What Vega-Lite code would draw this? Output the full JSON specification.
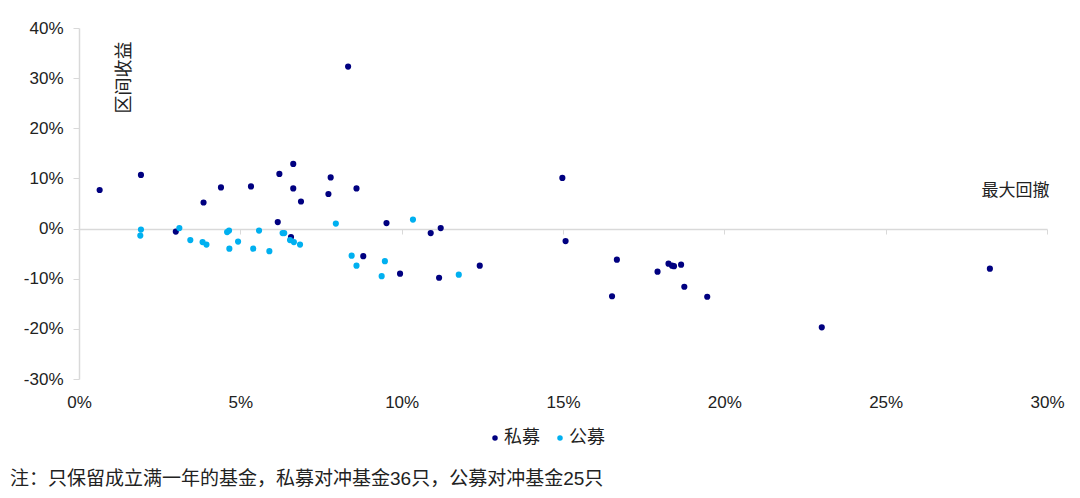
{
  "$schema": "https://vega.github.io/schema/vega-lite/v6.json",
  "autosize": {"type": "none"},
  "width": 968,
  "height": 351,
  "padding": {"left": 79, "top": 28, "right": 33, "bottom": 119},
  "background": "white",
  "config": {
    "view": {"stroke": null},
    "font": "Liberation Sans, Noto Sans CJK SC"
  },
  "title": {
    "text": "注：只保留成立满一年的基金，私募对冲基金36只，公募对冲基金25只",
    "orient": "bottom",
    "anchor": "start",
    "frame": "group",
    "dx": -69,
    "offset": 23,
    "fontSize": 19,
    "fontWeight": "normal",
    "color": "#222",
    "font": "Liberation Sans, Noto Sans CJK SC"
  },
  "data": {
    "values": [
      {"x": 0.0064, "y": 0.077, "type": "私募"},
      {"x": 0.0192, "y": 0.107, "type": "私募"},
      {"x": 0.0386, "y": 0.052, "type": "私募"},
      {"x": 0.0440, "y": 0.082, "type": "私募"},
      {"x": 0.0533, "y": 0.084, "type": "私募"},
      {"x": 0.0300, "y": -0.006, "type": "私募"},
      {"x": 0.0664, "y": 0.129, "type": "私募"},
      {"x": 0.0621, "y": 0.109, "type": "私募"},
      {"x": 0.0780, "y": 0.102, "type": "私募"},
      {"x": 0.0664, "y": 0.080, "type": "私募"},
      {"x": 0.0860, "y": 0.080, "type": "私募"},
      {"x": 0.0773, "y": 0.069, "type": "私募"},
      {"x": 0.0688, "y": 0.054, "type": "私募"},
      {"x": 0.0616, "y": 0.013, "type": "私募"},
      {"x": 0.0953, "y": 0.011, "type": "私募"},
      {"x": 0.0657, "y": -0.017, "type": "私募"},
      {"x": 0.1090, "y": -0.009, "type": "私募"},
      {"x": 0.1121, "y": 0.001, "type": "私募"},
      {"x": 0.0881, "y": -0.055, "type": "私募"},
      {"x": 0.0995, "y": -0.090, "type": "私募"},
      {"x": 0.1116, "y": -0.098, "type": "私募"},
      {"x": 0.1242, "y": -0.074, "type": "私募"},
      {"x": 0.1498, "y": 0.101, "type": "私募"},
      {"x": 0.1508, "y": -0.025, "type": "私募"},
      {"x": 0.1667, "y": -0.062, "type": "私募"},
      {"x": 0.1652, "y": -0.135, "type": "私募"},
      {"x": 0.1793, "y": -0.086, "type": "私募"},
      {"x": 0.1827, "y": -0.070, "type": "私募"},
      {"x": 0.1838, "y": -0.074, "type": "私募"},
      {"x": 0.1844, "y": -0.075, "type": "私募"},
      {"x": 0.1866, "y": -0.072, "type": "私募"},
      {"x": 0.1876, "y": -0.116, "type": "私募"},
      {"x": 0.1947, "y": -0.136, "type": "私募"},
      {"x": 0.0834, "y": 0.323, "type": "私募"},
      {"x": 0.2302, "y": -0.197, "type": "私募"},
      {"x": 0.2823, "y": -0.080, "type": "私募"},
      {"x": 0.0192, "y": -0.002, "type": "公募"},
      {"x": 0.0190, "y": -0.014, "type": "公募"},
      {"x": 0.0311, "y": 0.001, "type": "公募"},
      {"x": 0.0345, "y": -0.023, "type": "公募"},
      {"x": 0.0383, "y": -0.027, "type": "公募"},
      {"x": 0.0395, "y": -0.032, "type": "公募"},
      {"x": 0.0459, "y": -0.007, "type": "公募"},
      {"x": 0.0465, "y": -0.004, "type": "公募"},
      {"x": 0.0466, "y": -0.040, "type": "公募"},
      {"x": 0.0493, "y": -0.026, "type": "公募"},
      {"x": 0.0540, "y": -0.040, "type": "公募"},
      {"x": 0.0558, "y": -0.004, "type": "公募"},
      {"x": 0.0631, "y": -0.009, "type": "公募"},
      {"x": 0.0636, "y": -0.009, "type": "公募"},
      {"x": 0.0654, "y": -0.023, "type": "公募"},
      {"x": 0.0666, "y": -0.027, "type": "公募"},
      {"x": 0.0685, "y": -0.032, "type": "公募"},
      {"x": 0.0590, "y": -0.045, "type": "公募"},
      {"x": 0.0796, "y": 0.010, "type": "公募"},
      {"x": 0.1035, "y": 0.018, "type": "公募"},
      {"x": 0.0845, "y": -0.054, "type": "公募"},
      {"x": 0.0860, "y": -0.074, "type": "公募"},
      {"x": 0.0948, "y": -0.065, "type": "公募"},
      {"x": 0.0938, "y": -0.095, "type": "公募"},
      {"x": 0.1177, "y": -0.092, "type": "公募"}
    ]
  },
  "mark": {"type": "point", "shape": "circle", "filled": true, "size": 38, "opacity": 1},
  "encoding": {
    "x": {
      "field": "x",
      "type": "quantitative",
      "scale": {"domain": [0, 0.3], "nice": false, "zero": false},
      "axis": {
        "format": ".0%",
        "values": [0, 0.05, 0.1, 0.15, 0.2, 0.25, 0.3],
        "offset": -150,
        "grid": false,
        "labelFlush": false,
        "labelOverlap": false,
        "domainColor": "#d9d9d9",
        "domainWidth": 1.5,
        "tickColor": "#d9d9d9",
        "tickSize": 5,
        "labelPadding": 160,
        "labelFontSize": 17,
        "labelColor": "#222",
        "labelFont": "Liberation Sans",
        "title": "最大回撤",
        "titleX": 970,
        "titleY": -39,
        "titleAlign": "right",
        "titleBaseline": "middle",
        "titleFontSize": 17,
        "titleFontWeight": "normal",
        "titleColor": "#222",
        "titleFont": "Noto Sans CJK SC"
      }
    },
    "y": {
      "field": "y",
      "type": "quantitative",
      "scale": {"domain": [-0.3, 0.4], "nice": false, "zero": false},
      "axis": {
        "format": ".0%",
        "labelExpr": "replace(datum.label, '−', '-')",
        "values": [-0.3, -0.2, -0.1, 0, 0.1, 0.2, 0.3, 0.4],
        "grid": false,
        "labelFlush": false,
        "domainColor": "#d9d9d9",
        "domainWidth": 1.5,
        "tickColor": "#d9d9d9",
        "tickSize": 6,
        "labelPadding": 10,
        "labelFontSize": 17,
        "labelColor": "#222",
        "labelFont": "Liberation Sans",
        "title": "区间收益",
        "titleX": 45,
        "titleY": 49,
        "titleAngle": 270,
        "titleAlign": "center",
        "titleBaseline": "middle",
        "titleFontSize": 18,
        "titleFontWeight": "normal",
        "titleColor": "#222",
        "titleFont": "Noto Sans CJK SC"
      }
    },
    "color": {
      "field": "type",
      "type": "nominal",
      "scale": {"domain": ["私募", "公募"], "range": ["#000080", "#00B0F0"]},
      "legend": {
        "title": null,
        "orient": "none",
        "direction": "horizontal",
        "legendX": 407,
        "legendY": 401,
        "padding": 0,
        "symbolType": "circle",
        "symbolSize": 30,
        "symbolStrokeWidth": 0,
        "labelFontSize": 18,
        "labelFont": "Noto Sans CJK SC",
        "labelColor": "#222",
        "labelOffset": 0,
        "columnPadding": 11
      }
    },
    "order": {"field": "type", "sort": "descending"}
  }
}
